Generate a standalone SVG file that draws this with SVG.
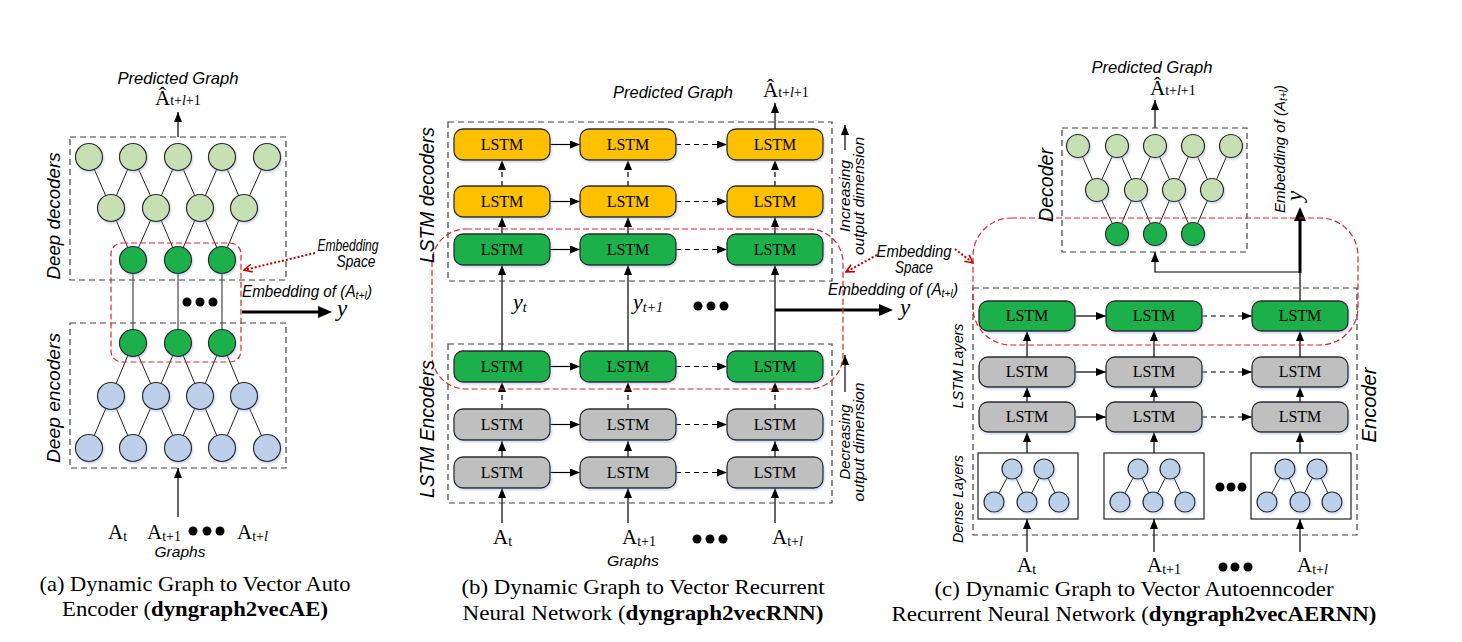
<svg xmlns="http://www.w3.org/2000/svg" width="1462" height="642" viewBox="0 0 1462 642">
<defs>
<style>
.ser{font-family:"Liberation Serif",serif;fill:#000}
.san{font-family:"Liberation Sans",sans-serif;font-style:italic;fill:#000}
.lstm{font-family:"Liberation Serif",serif;font-size:16px;text-anchor:middle;fill:#000}
.box{stroke:#2a2a2a;stroke-width:1.3;filter:url(#sh)}
.c{stroke:#2a2a2a;stroke-width:1.2;filter:url(#sh)}
.or{fill:#FFC000}.gn{fill:#1FB04C}.gy{fill:#BFBFBF}.lg{fill:#C6E0B4}.bl{fill:#BDD0EB}
.dbox{fill:none;stroke:#404040;stroke-width:1.2;stroke-dasharray:6 4}
.rbox{fill:none;stroke:#D9262E;stroke-width:1.2;stroke-dasharray:6 3}
.e{stroke:#222;stroke-width:1;fill:none}
.a{stroke:#000;stroke-width:1.2;fill:none;marker-end:url(#ah)}
.ad{stroke:#000;stroke-width:1.2;fill:none;stroke-dasharray:5 4;marker-end:url(#ah)}
.ln{stroke:#000;stroke-width:1.2;fill:none}
.at{stroke:#000;stroke-width:3;fill:none;marker-end:url(#ahb)}
.rd{stroke:#C00000;stroke-width:2;stroke-dasharray:2 2;fill:none;marker-end:url(#ra)}
</style>
<filter id="sh" x="-20%" y="-20%" width="150%" height="160%"><feDropShadow dx="1" dy="1.5" stdDeviation="1.2" flood-color="#8fa8d0" flood-opacity="0.5"/></filter>
<marker id="ah" viewBox="0 0 10 8" refX="10" refY="4" markerWidth="10" markerHeight="8" markerUnits="userSpaceOnUse" orient="auto"><path d="M0,0 L10,4 L0,8 z" fill="#000"/></marker>
<marker id="ahb" viewBox="0 0 14 12" refX="4" refY="6" markerWidth="14" markerHeight="12" markerUnits="userSpaceOnUse" orient="auto"><path d="M0,0 L14,6 L0,12 z" fill="#000"/></marker>
<marker id="ra" viewBox="0 0 10 10" refX="9" refY="5" markerWidth="10" markerHeight="10" markerUnits="userSpaceOnUse" orient="auto"><path d="M1,1 L9,5 L1,9" fill="none" stroke="#C00000" stroke-width="1.6"/></marker>
</defs>
<rect width="1462" height="642" fill="#fff"/>

<!-- ================= connectors ================= -->
<g id="connectors">
  <!-- (a) decoder edges -->
  <path class="e" d="M111,208 L89,157 M111,208 L133,157 M156,208 L133,157 M156,208 L178,157 M200,208 L178,157 M200,208 L222,157 M244,208 L222,157 M244,208 L267,157"/>
  <path class="e" d="M133,260 L111,208 M133,260 L156,208 M178,260 L156,208 M178,260 L200,208 M222,260 L200,208 M222,260 L244,208"/>
  <path class="e" d="M133,260 L133,343 M178,260 L178,343 M222,260 L222,343"/>
  <!-- (a) encoder edges -->
  <path class="e" d="M133,343 L111,396 M133,343 L156,396 M178,343 L156,396 M178,343 L200,396 M222,343 L200,396 M222,343 L244,396"/>
  <path class="e" d="M111,396 L89,448 M111,396 L133,448 M156,396 L133,448 M156,396 L178,448 M200,396 L178,448 M200,396 L222,448 M244,396 L222,448 M244,396 L267,448"/>
  <line class="a" x1="178" y1="137" x2="178" y2="112"/>
  <line class="a" x1="178" y1="517" x2="178" y2="468"/>
  <line class="at" x1="242" y1="312" x2="322" y2="312"/>
  <line class="rd" x1="315" y1="253" x2="244" y2="270"/>

  <!-- (b) horizontal -->
  <line class="a" x1="550" y1="144.5" x2="580" y2="144.5"/>
  <line class="ad" x1="676" y1="144.5" x2="727" y2="144.5"/>
  <line class="a" x1="550" y1="201.5" x2="580" y2="201.5"/>
  <line class="ad" x1="676" y1="201.5" x2="727" y2="201.5"/>
  <line class="a" x1="550" y1="249.5" x2="580" y2="249.5"/>
  <line class="ad" x1="676" y1="249.5" x2="727" y2="249.5"/>
  <line class="a" x1="550" y1="366.5" x2="580" y2="366.5"/>
  <line class="ad" x1="676" y1="366.5" x2="727" y2="366.5"/>
  <line class="a" x1="550" y1="424.5" x2="580" y2="424.5"/>
  <line class="ad" x1="676" y1="424.5" x2="727" y2="424.5"/>
  <line class="a" x1="550" y1="472.5" x2="580" y2="472.5"/>
  <line class="ad" x1="676" y1="472.5" x2="727" y2="472.5"/>
  <!-- (b) vertical -->
  <path class="ad" d="M502,186 L502,160"/><path class="ad" d="M628,186 L628,160"/><path class="ad" d="M775,186 L775,160"/>
  <path class="a" d="M502,234 L502,217"/><path class="a" d="M628,234 L628,217"/><path class="a" d="M775,234 L775,217"/>
  <path class="a" d="M502,351 L502,265"/><path class="a" d="M628,351 L628,265"/><path class="a" d="M775,351 L775,265"/>
  <path class="ad" d="M502,409 L502,382"/><path class="ad" d="M628,409 L628,382"/><path class="ad" d="M775,409 L775,382"/>
  <path class="a" d="M502,457 L502,441"/><path class="a" d="M628,457 L628,441"/><path class="a" d="M775,457 L775,441"/>
  <path class="a" d="M502,523 L502,488"/><path class="a" d="M628,523 L628,488"/><path class="a" d="M775,523 L775,488"/>
  <line class="a" x1="775" y1="129" x2="775" y2="103"/>
  <line class="at" x1="775" y1="310" x2="883" y2="310"/>
  <line class="a" x1="845" y1="150" x2="845" y2="125"/>
  <line class="a" x1="845" y1="392" x2="845" y2="355"/>
  <line class="rd" x1="877" y1="255" x2="846" y2="272"/>
  <line class="rd" x1="955" y1="249" x2="973" y2="263"/>

  <!-- (c) decoder edges -->
  <path class="e" d="M1097,190 L1078,146 M1097,190 L1117,146 M1136,190 L1117,146 M1136,190 L1155,146 M1174,190 L1155,146 M1174,190 L1193,146 M1212,190 L1193,146 M1212,190 L1231,146"/>
  <path class="e" d="M1117,234 L1097,190 M1117,234 L1136,190 M1155,234 L1136,190 M1155,234 L1174,190 M1193,234 L1174,190 M1193,234 L1212,190"/>
  <line class="a" x1="1155" y1="128" x2="1155" y2="100"/>
  <line class="ln" x1="1300" y1="301" x2="1300" y2="272"/>
  <line class="at" x1="1300" y1="273" x2="1300" y2="217"/>
  <path class="a" d="M1300,272 L1155,272 L1155,252"/>
  <!-- (c) dense edges -->
  <path class="e" d="M1012,469 L994,502 M1012,469 L1027,502 M1044,469 L1027,502 M1044,469 L1059,502"/>
  <path class="e" d="M1138,469 L1120,502 M1138,469 L1153,502 M1170,469 L1153,502 M1170,469 L1185,502"/>
  <path class="e" d="M1285,469 L1267,502 M1285,469 L1300,502 M1317,469 L1300,502 M1317,469 L1332,502"/>
  <!-- (c) horizontal -->
  <line class="a" x1="1075" y1="316" x2="1106" y2="316"/>
  <line class="ad" x1="1202" y1="316" x2="1252" y2="316"/>
  <line class="a" x1="1075" y1="372" x2="1106" y2="372"/>
  <line class="ad" x1="1202" y1="372" x2="1252" y2="372"/>
  <line class="a" x1="1075" y1="417" x2="1106" y2="417"/>
  <line class="ad" x1="1202" y1="417" x2="1252" y2="417"/>
  <!-- (c) vertical -->
  <path class="a" d="M1027,552 L1027,519"/><path class="a" d="M1154,552 L1154,519"/><path class="a" d="M1300,552 L1300,519"/>
  <path class="a" d="M1027,453 L1027,432"/><path class="a" d="M1154,453 L1154,432"/><path class="a" d="M1300,453 L1300,432"/>
  <path class="a" d="M1027,402 L1027,387"/><path class="a" d="M1154,402 L1154,387"/><path class="a" d="M1300,402 L1300,387"/>
  <path class="a" d="M1027,357 L1027,331"/><path class="a" d="M1154,357 L1154,331"/><path class="a" d="M1300,357 L1300,331"/>
</g>

<!-- ================= panel (a) ================= -->
<g id="a-frames">
  <rect class="dbox" x="70" y="137" width="216" height="143"/>
  <rect class="dbox" x="70" y="323" width="216" height="145"/>
  <rect class="rbox" x="111" y="243" width="130" height="119" rx="11"/>
</g>
<g id="a-dec-t1"><circle class="c lg" cx="89" cy="157" r="13.5"/></g>
<g id="a-dec-t2"><circle class="c lg" cx="133" cy="157" r="13.5"/></g>
<g id="a-dec-t3"><circle class="c lg" cx="178" cy="157" r="13.5"/></g>
<g id="a-dec-t4"><circle class="c lg" cx="222" cy="157" r="13.5"/></g>
<g id="a-dec-t5"><circle class="c lg" cx="267" cy="157" r="13.5"/></g>
<g id="a-dec-m1"><circle class="c lg" cx="111" cy="208" r="13.5"/></g>
<g id="a-dec-m2"><circle class="c lg" cx="156" cy="208" r="13.5"/></g>
<g id="a-dec-m3"><circle class="c lg" cx="200" cy="208" r="13.5"/></g>
<g id="a-dec-m4"><circle class="c lg" cx="244" cy="208" r="13.5"/></g>
<g id="a-dec-g1"><circle class="c gn" cx="133" cy="260" r="13.5"/></g>
<g id="a-dec-g2"><circle class="c gn" cx="178" cy="260" r="13.5"/></g>
<g id="a-dec-g3"><circle class="c gn" cx="222" cy="260" r="13.5"/></g>
<g id="a-enc-g1"><circle class="c gn" cx="133" cy="343" r="13.5"/></g>
<g id="a-enc-g2"><circle class="c gn" cx="178" cy="343" r="13.5"/></g>
<g id="a-enc-g3"><circle class="c gn" cx="222" cy="343" r="13.5"/></g>
<g id="a-enc-m1"><circle class="c bl" cx="111" cy="396" r="13.5"/></g>
<g id="a-enc-m2"><circle class="c bl" cx="156" cy="396" r="13.5"/></g>
<g id="a-enc-m3"><circle class="c bl" cx="200" cy="396" r="13.5"/></g>
<g id="a-enc-m4"><circle class="c bl" cx="244" cy="396" r="13.5"/></g>
<g id="a-enc-b1"><circle class="c bl" cx="89" cy="448" r="13.5"/></g>
<g id="a-enc-b2"><circle class="c bl" cx="133" cy="448" r="13.5"/></g>
<g id="a-enc-b3"><circle class="c bl" cx="178" cy="448" r="13.5"/></g>
<g id="a-enc-b4"><circle class="c bl" cx="222" cy="448" r="13.5"/></g>
<g id="a-enc-b5"><circle class="c bl" cx="267" cy="448" r="13.5"/></g>
<g id="a-labels">
  <text class="san" x="178" y="84" font-size="17" text-anchor="middle" textLength="121" lengthAdjust="spacingAndGlyphs">Predicted Graph</text>
  <text class="ser" x="155" y="105" font-size="21">Â<tspan font-size="14">t+<tspan font-style="italic">l</tspan>+1</tspan></text>
  <text class="san" font-size="19" text-anchor="middle" transform="translate(60,216) rotate(-90)" textLength="127" lengthAdjust="spacingAndGlyphs">Deep decoders</text>
  <text class="san" font-size="19" text-anchor="middle" transform="translate(60,398) rotate(-90)" textLength="130" lengthAdjust="spacingAndGlyphs">Deep encoders</text>
  <text class="san" x="348" y="251" font-size="16" text-anchor="middle" textLength="61" lengthAdjust="spacingAndGlyphs">Embedding</text>
  <text class="san" x="356" y="267" font-size="16" text-anchor="middle" textLength="39" lengthAdjust="spacingAndGlyphs">Space</text>
  <text class="san" x="242" y="297" font-size="16" textLength="130" lengthAdjust="spacingAndGlyphs">Embedding of (A<tspan font-size="11" dy="2">t+l</tspan><tspan dy="-2">)</tspan></text>
  <text class="ser" x="337" y="316" font-size="23" font-style="italic">y</text>
  <circle cx="187" cy="302" r="4.5"/><circle cx="200" cy="302" r="4.5"/><circle cx="213" cy="302" r="4.5"/>
  <text class="ser" x="108" y="539" font-size="21">A<tspan font-size="14" dy="2">t</tspan></text>
  <text class="ser" x="147" y="539" font-size="21">A<tspan font-size="14" dy="2">t+1</tspan></text>
  <circle cx="193" cy="531" r="4.5"/><circle cx="207" cy="531" r="4.5"/><circle cx="220" cy="531" r="4.5"/>
  <text class="ser" x="237" y="539" font-size="21">A<tspan font-size="14" dy="2">t+<tspan font-style="italic">l</tspan></tspan></text>
  <text class="san" x="180" y="557" font-size="15" text-anchor="middle" textLength="51" lengthAdjust="spacingAndGlyphs">Graphs</text>
  <text class="ser" x="195" y="591" font-size="21" text-anchor="middle" textLength="311" lengthAdjust="spacingAndGlyphs">(a) Dynamic Graph to Vector Auto</text>
  <text class="ser" x="195" y="616" font-size="21" text-anchor="middle" textLength="266" lengthAdjust="spacingAndGlyphs">Encoder (<tspan font-weight="bold">dyngraph2vecAE)</tspan></text>
</g>

<!-- ================= panel (b) ================= -->
<g id="b-frames">
  <rect class="dbox" x="448" y="122" width="384" height="159"/>
  <rect class="dbox" x="448" y="344" width="384" height="159"/>
  <rect class="rbox" x="432" y="229" width="411" height="160" rx="34"/>
</g>
<g id="b-d1-1"><rect class="box or" x="454" y="129" width="96" height="31" rx="9"/><text class="lstm" x="502" y="150">LSTM</text></g>
<g id="b-d1-2"><rect class="box or" x="580" y="129" width="96" height="31" rx="9"/><text class="lstm" x="628" y="150">LSTM</text></g>
<g id="b-d1-3"><rect class="box or" x="727" y="129" width="96" height="31" rx="9"/><text class="lstm" x="775" y="150">LSTM</text></g>
<g id="b-d2-1"><rect class="box or" x="454" y="186" width="96" height="31" rx="9"/><text class="lstm" x="502" y="207">LSTM</text></g>
<g id="b-d2-2"><rect class="box or" x="580" y="186" width="96" height="31" rx="9"/><text class="lstm" x="628" y="207">LSTM</text></g>
<g id="b-d2-3"><rect class="box or" x="727" y="186" width="96" height="31" rx="9"/><text class="lstm" x="775" y="207">LSTM</text></g>
<g id="b-d3-1"><rect class="box gn" x="454" y="234" width="96" height="31" rx="9"/><text class="lstm" x="502" y="255">LSTM</text></g>
<g id="b-d3-2"><rect class="box gn" x="580" y="234" width="96" height="31" rx="9"/><text class="lstm" x="628" y="255">LSTM</text></g>
<g id="b-d3-3"><rect class="box gn" x="727" y="234" width="96" height="31" rx="9"/><text class="lstm" x="775" y="255">LSTM</text></g>
<g id="b-e1-1"><rect class="box gn" x="454" y="351" width="96" height="31" rx="9"/><text class="lstm" x="502" y="372">LSTM</text></g>
<g id="b-e1-2"><rect class="box gn" x="580" y="351" width="96" height="31" rx="9"/><text class="lstm" x="628" y="372">LSTM</text></g>
<g id="b-e1-3"><rect class="box gn" x="727" y="351" width="96" height="31" rx="9"/><text class="lstm" x="775" y="372">LSTM</text></g>
<g id="b-e2-1"><rect class="box gy" x="454" y="409" width="96" height="31" rx="9"/><text class="lstm" x="502" y="430">LSTM</text></g>
<g id="b-e2-2"><rect class="box gy" x="580" y="409" width="96" height="31" rx="9"/><text class="lstm" x="628" y="430">LSTM</text></g>
<g id="b-e2-3"><rect class="box gy" x="727" y="409" width="96" height="31" rx="9"/><text class="lstm" x="775" y="430">LSTM</text></g>
<g id="b-e3-1"><rect class="box gy" x="454" y="457" width="96" height="31" rx="9"/><text class="lstm" x="502" y="478">LSTM</text></g>
<g id="b-e3-2"><rect class="box gy" x="580" y="457" width="96" height="31" rx="9"/><text class="lstm" x="628" y="478">LSTM</text></g>
<g id="b-e3-3"><rect class="box gy" x="727" y="457" width="96" height="31" rx="9"/><text class="lstm" x="775" y="478">LSTM</text></g>
<g id="b-labels">
  <text class="san" x="673" y="98" font-size="17" text-anchor="middle" textLength="120" lengthAdjust="spacingAndGlyphs">Predicted Graph</text>
  <text class="ser" x="763" y="97" font-size="21">Â<tspan font-size="14">t+<tspan font-style="italic">l</tspan>+1</tspan></text>
  <text class="san" font-size="21" text-anchor="middle" transform="translate(434,195) rotate(-90)" textLength="136" lengthAdjust="spacingAndGlyphs">LSTM decoders</text>
  <text class="san" font-size="21" text-anchor="middle" transform="translate(434,429) rotate(-90)" textLength="138" lengthAdjust="spacingAndGlyphs">LSTM Encoders</text>
  <text class="san" font-size="15" text-anchor="middle" transform="translate(850,196) rotate(-90)" textLength="72" lengthAdjust="spacingAndGlyphs">Increasing</text>
  <text class="san" font-size="15" text-anchor="middle" transform="translate(864,196) rotate(-90)" textLength="118" lengthAdjust="spacingAndGlyphs">output dimension</text>
  <text class="san" font-size="15" text-anchor="middle" transform="translate(850,442) rotate(-90)" textLength="75" lengthAdjust="spacingAndGlyphs">Decreasing</text>
  <text class="san" font-size="15" text-anchor="middle" transform="translate(864,442) rotate(-90)" textLength="119" lengthAdjust="spacingAndGlyphs">output dimension</text>
  <text class="ser" x="513" y="309" font-size="22" font-style="italic">y<tspan font-size="14" dy="3">t</tspan></text>
  <text class="ser" x="633" y="309" font-size="22" font-style="italic">y<tspan font-size="14" dy="3">t+1</tspan></text>
  <circle cx="698" cy="306" r="4.5"/><circle cx="711" cy="306" r="4.5"/><circle cx="724" cy="306" r="4.5"/>
  <text class="san" x="828" y="295" font-size="16" textLength="130" lengthAdjust="spacingAndGlyphs">Embedding of (A<tspan font-size="11" dy="2">t+l</tspan><tspan dy="-2">)</tspan></text>
  <text class="ser" x="900" y="315" font-size="23" font-style="italic">y</text>
  <text class="san" x="914" y="257" font-size="16" text-anchor="middle" textLength="75" lengthAdjust="spacingAndGlyphs">Embedding</text>
  <text class="san" x="914" y="273" font-size="16" text-anchor="middle" textLength="38" lengthAdjust="spacingAndGlyphs">Space</text>
  <text class="ser" x="493" y="544" font-size="21">A<tspan font-size="14" dy="2">t</tspan></text>
  <text class="ser" x="622" y="544" font-size="21">A<tspan font-size="14" dy="2">t+1</tspan></text>
  <circle cx="697" cy="539" r="4.5"/><circle cx="710" cy="539" r="4.5"/><circle cx="723" cy="539" r="4.5"/>
  <text class="ser" x="772" y="544" font-size="21">A<tspan font-size="14" dy="2">t+<tspan font-style="italic">l</tspan></tspan></text>
  <text class="san" x="633" y="566" font-size="15" text-anchor="middle" textLength="52" lengthAdjust="spacingAndGlyphs">Graphs</text>
  <text class="ser" x="643" y="594" font-size="21" text-anchor="middle" textLength="363" lengthAdjust="spacingAndGlyphs">(b) Dynamic Graph to Vector Recurrent</text>
  <text class="ser" x="643" y="620" font-size="21" text-anchor="middle" textLength="361" lengthAdjust="spacingAndGlyphs">Neural Network  (<tspan font-weight="bold">dyngraph2vecRNN)</tspan></text>
</g>

<!-- ================= panel (c) ================= -->
<g id="c-frames">
  <rect class="dbox" x="1062" y="128" width="185" height="124"/>
  <rect class="dbox" x="973" y="288" width="384" height="247"/>
  <rect class="rbox" x="973" y="218" width="385" height="127" rx="38"/>
</g>
<g id="c-dec-t1"><circle class="c lg" cx="1078" cy="146" r="11.5"/></g>
<g id="c-dec-t2"><circle class="c lg" cx="1117" cy="146" r="11.5"/></g>
<g id="c-dec-t3"><circle class="c lg" cx="1155" cy="146" r="11.5"/></g>
<g id="c-dec-t4"><circle class="c lg" cx="1193" cy="146" r="11.5"/></g>
<g id="c-dec-t5"><circle class="c lg" cx="1231" cy="146" r="11.5"/></g>
<g id="c-dec-m1"><circle class="c lg" cx="1097" cy="190" r="11.5"/></g>
<g id="c-dec-m2"><circle class="c lg" cx="1136" cy="190" r="11.5"/></g>
<g id="c-dec-m3"><circle class="c lg" cx="1174" cy="190" r="11.5"/></g>
<g id="c-dec-m4"><circle class="c lg" cx="1212" cy="190" r="11.5"/></g>
<g id="c-dec-g1"><circle class="c gn" cx="1117" cy="234" r="11.5"/></g>
<g id="c-dec-g2"><circle class="c gn" cx="1155" cy="234" r="11.5"/></g>
<g id="c-dec-g3"><circle class="c gn" cx="1193" cy="234" r="11.5"/></g>
<g id="c-l1-1"><rect class="box gn" x="979" y="301" width="96" height="30" rx="9"/><text class="lstm" x="1027" y="321">LSTM</text></g>
<g id="c-l1-2"><rect class="box gn" x="1106" y="301" width="96" height="30" rx="9"/><text class="lstm" x="1154" y="321">LSTM</text></g>
<g id="c-l1-3"><rect class="box gn" x="1252" y="301" width="96" height="30" rx="9"/><text class="lstm" x="1300" y="321">LSTM</text></g>
<g id="c-l2-1"><rect class="box gy" x="979" y="357" width="96" height="30" rx="9"/><text class="lstm" x="1027" y="377">LSTM</text></g>
<g id="c-l2-2"><rect class="box gy" x="1106" y="357" width="96" height="30" rx="9"/><text class="lstm" x="1154" y="377">LSTM</text></g>
<g id="c-l2-3"><rect class="box gy" x="1252" y="357" width="96" height="30" rx="9"/><text class="lstm" x="1300" y="377">LSTM</text></g>
<g id="c-l3-1"><rect class="box gy" x="979" y="402" width="96" height="30" rx="9"/><text class="lstm" x="1027" y="422">LSTM</text></g>
<g id="c-l3-2"><rect class="box gy" x="1106" y="402" width="96" height="30" rx="9"/><text class="lstm" x="1154" y="422">LSTM</text></g>
<g id="c-l3-3"><rect class="box gy" x="1252" y="402" width="96" height="30" rx="9"/><text class="lstm" x="1300" y="422">LSTM</text></g>
<g id="c-dense-1">
  <rect x="978" y="453" width="100" height="66" fill="none" stroke="#222" stroke-width="1.2"/>
  <circle class="c bl" cx="1012" cy="469" r="10"/><circle class="c bl" cx="1044" cy="469" r="10"/>
  <circle class="c bl" cx="994" cy="502" r="10"/><circle class="c bl" cx="1027" cy="502" r="10"/><circle class="c bl" cx="1059" cy="502" r="10"/>
</g>
<g id="c-dense-2">
  <rect x="1104" y="453" width="100" height="66" fill="none" stroke="#222" stroke-width="1.2"/>
  <circle class="c bl" cx="1138" cy="469" r="10"/><circle class="c bl" cx="1170" cy="469" r="10"/>
  <circle class="c bl" cx="1120" cy="502" r="10"/><circle class="c bl" cx="1153" cy="502" r="10"/><circle class="c bl" cx="1185" cy="502" r="10"/>
</g>
<g id="c-dense-3">
  <rect x="1251" y="453" width="100" height="66" fill="none" stroke="#222" stroke-width="1.2"/>
  <circle class="c bl" cx="1285" cy="469" r="10"/><circle class="c bl" cx="1317" cy="469" r="10"/>
  <circle class="c bl" cx="1267" cy="502" r="10"/><circle class="c bl" cx="1300" cy="502" r="10"/><circle class="c bl" cx="1332" cy="502" r="10"/>
</g>
<g id="c-labels">
  <text class="san" x="1152" y="73" font-size="17" text-anchor="middle" textLength="121" lengthAdjust="spacingAndGlyphs">Predicted Graph</text>
  <text class="ser" x="1150" y="95" font-size="21">Â<tspan font-size="14">t+<tspan font-style="italic">l</tspan>+1</tspan></text>
  <text class="san" font-size="21" text-anchor="middle" transform="translate(1053,185) rotate(-90)" textLength="74" lengthAdjust="spacingAndGlyphs">Decoder</text>
  <text class="san" font-size="15" text-anchor="middle" transform="translate(1285,149) rotate(-90)" textLength="128" lengthAdjust="spacingAndGlyphs">Embedding of (A<tspan font-size="10" dy="2">t+l</tspan><tspan dy="-2">)</tspan></text>
  <text class="ser" font-size="23" font-style="italic" text-anchor="middle" transform="translate(1302,196) rotate(-90)">y</text>
  <text class="san" font-size="21" text-anchor="middle" transform="translate(1376,405) rotate(-90)" textLength="75" lengthAdjust="spacingAndGlyphs">Encoder</text>
  <text class="san" font-size="14" text-anchor="middle" transform="translate(963,366) rotate(-90)" textLength="85" lengthAdjust="spacingAndGlyphs">LSTM Layers</text>
  <text class="san" font-size="14" text-anchor="middle" transform="translate(963,499) rotate(-90)" textLength="88" lengthAdjust="spacingAndGlyphs">Dense Layers</text>
  <circle cx="1220" cy="487" r="4.5"/><circle cx="1231" cy="487" r="4.5"/><circle cx="1242" cy="487" r="4.5"/>
  <text class="ser" x="1017" y="572" font-size="21">A<tspan font-size="14" dy="2">t</tspan></text>
  <text class="ser" x="1147" y="572" font-size="21">A<tspan font-size="14" dy="2">t+1</tspan></text>
  <circle cx="1223" cy="567" r="4.5"/><circle cx="1235" cy="567" r="4.5"/><circle cx="1248" cy="567" r="4.5"/>
  <text class="ser" x="1297" y="572" font-size="21">A<tspan font-size="14" dy="2">t+<tspan font-style="italic">l</tspan></tspan></text>
  <text class="ser" x="1134" y="596" font-size="21" text-anchor="middle" textLength="399" lengthAdjust="spacingAndGlyphs">(c) Dynamic Graph to Vector Autoenncoder</text>
  <text class="ser" x="1134" y="621" font-size="21" text-anchor="middle" textLength="485" lengthAdjust="spacingAndGlyphs">Recurrent Neural Network  (<tspan font-weight="bold">dyngraph2vecAERNN)</tspan></text>
</g>
</svg>
